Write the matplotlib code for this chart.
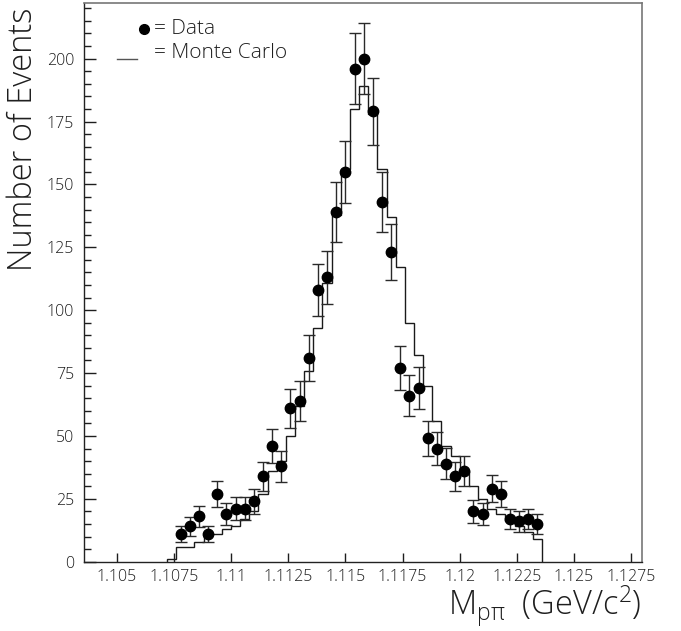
import numpy as np
import matplotlib
matplotlib.use("Agg")
import matplotlib.pyplot as plt
from matplotlib.lines import Line2D
from matplotlib.ticker import MultipleLocator

# Measured invariant-mass spectrum (events per 0.4 MeV bin)
data_first_center = 1.1078
bin_width = 0.0004
data_counts = [11, 14, 18, 11, 27, 19, 21, 21, 24, 34,
               46, 38, 61, 64, 81, 108, 113, 139, 155, 196,
               200, 179, 143, 123, 77, 66, 69, 49, 45, 39,
               34, 36, 20, 19, 29, 27, 17, 16, 17, 15]

# Monte Carlo expectation, same binning plus one extra bin on the low side
mc_first_edge = 1.1072
mc_counts = [1, 6, 6, 8, 11, 11, 13, 14, 17, 20, 27,
             36, 40, 50, 62, 76, 93, 111, 138, 156, 180,
             189, 178, 156, 137, 117, 95, 82, 70, 56, 46,
             42, 36, 30, 25, 21, 19, 16, 14, 12, 9]

x_ticks = [1.105, 1.1075, 1.11, 1.1125, 1.115, 1.1175, 1.12, 1.1225, 1.125, 1.1275]
x_tick_labels = ["1.105", "1.1075", "1.11", "1.1125", "1.115", "1.1175",
                 "1.12", "1.1225", "1.125", "1.1275"]
y_ticks = [0, 25, 50, 75, 100, 125, 150, 175, 200]

data_counts = np.array(data_counts, dtype=float)
mc_counts = np.array(mc_counts, dtype=float)
data_centers = data_first_center + bin_width * np.arange(len(data_counts))
mc_edges = mc_first_edge + bin_width * np.arange(len(mc_counts) + 1)

plt.rcParams["font.family"] = ["Open Sans", "DejaVu Sans"]
plt.rcParams["font.weight"] = "light"
plt.rcParams["mathtext.default"] = "regular"

TXT = "#1e1e1e"

W, H = 681, 631
fig = plt.figure(figsize=(W / 100, H / 100), dpi=100)
ax = fig.add_axes([84 / W, 1 - 561.7 / H, (641.7 - 84) / W, (561.7 - 3.3) / H])

# Monte Carlo histogram
ax.stairs(mc_counts, mc_edges, baseline=0, color="#1a1a1a", lw=1.0)

# Data points with Poisson errors
ax.errorbar(data_centers, data_counts, yerr=np.sqrt(data_counts), fmt="o",
            color="black", ecolor="#2a2a2a", ms=7.5, elinewidth=1.0,
            capsize=4.0, capthick=1.0)

ax.set_xlim(1.10357, 1.12796)
ax.set_ylim(0, 222)

ax.set_xticks(x_ticks)
ax.set_xticklabels(x_tick_labels)
ax.set_yticks(y_ticks)
ax.set_yticklabels([str(v) for v in y_ticks])
ax.yaxis.set_minor_locator(MultipleLocator(5))

ax.tick_params(axis="both", which="both", direction="in", colors=TXT,
               labelsize=11.5)
ax.tick_params(axis="x", which="major", length=6.8, width=1.0, pad=5)
ax.tick_params(axis="y", which="major", length=8.6, width=1.0, pad=7)
ax.tick_params(axis="y", which="minor", length=5.0, width=1.0)

for side in ("left", "bottom"):
    ax.spines[side].set_color("#222222")
    ax.spines[side].set_linewidth(1.0)
for side in ("top", "right"):
    ax.spines[side].set_color("#777777")
    ax.spines[side].set_linewidth(1.2)

# Axis titles
fig.text(23 / W, 1 - 8 / H, "Number of Events", rotation=90,
         ha="center", va="top", fontsize=23.5, color=TXT)
fig.text(641 / W, 1 - 606 / H, r"M$_{p\pi}$  (GeV/c$^{2}$)",
         ha="right", va="center", fontsize=23.5, color=TXT)

# Key
fig.add_artist(Line2D([144 / W], [1 - 29.3 / H], marker="o", ms=7.0,
                      color="black", transform=fig.transFigure))
fig.text(154 / W, 1 - 29 / H, "= Data", ha="left", va="center",
         fontsize=15, color=TXT)
fig.add_artist(Line2D([116.7 / W, 137.3 / W], [1 - 59.3 / H, 1 - 59.3 / H],
                      color="#555555", lw=1.0, transform=fig.transFigure))
fig.text(154 / W, 1 - 53 / H, "= Monte Carlo", ha="left", va="center",
         fontsize=15, color=TXT)

fig.savefig("out.png", dpi=100)
